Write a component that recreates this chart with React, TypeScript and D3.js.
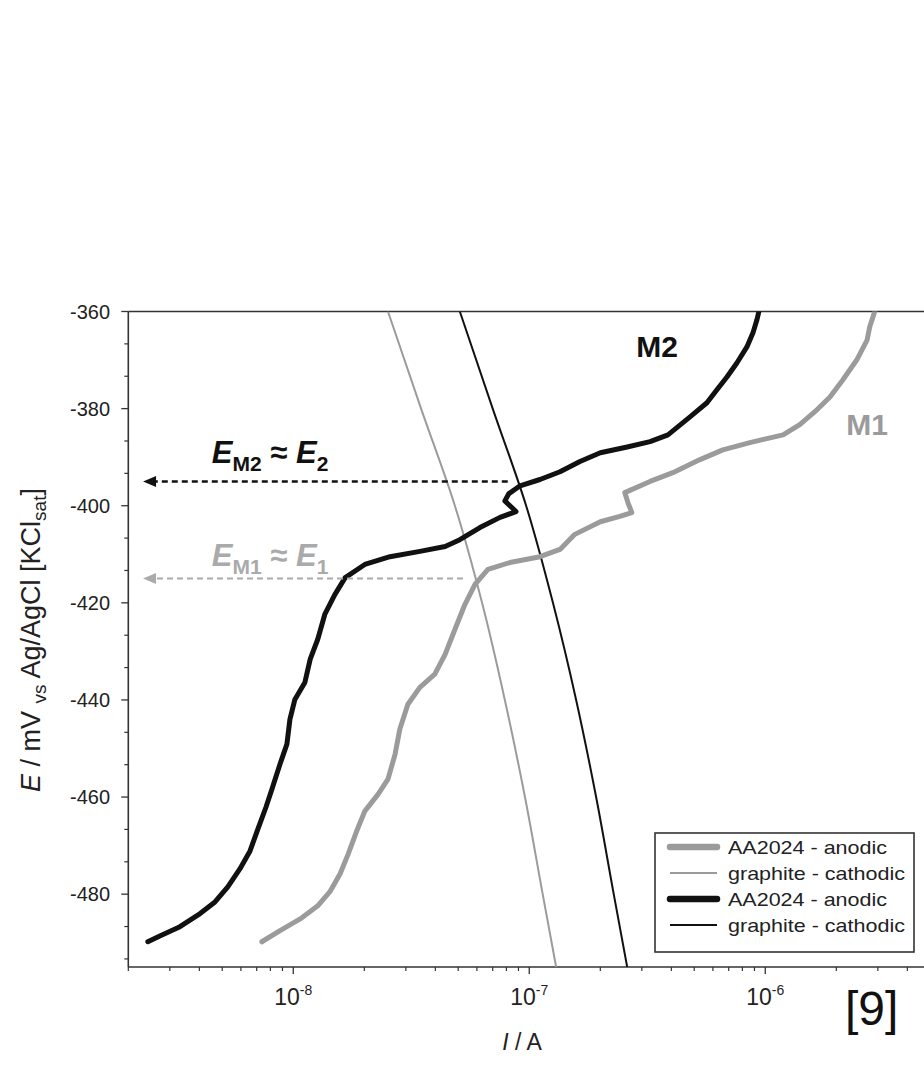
import React from 'react';
import * as d3 from 'd3';

// AA2024 anodic curve, couple M2 (black, thick)
const m2Current = [
  2.42e-9, 2.72e-9, 3.31e-9, 4.03e-9, 4.66e-9, 5.28e-9, 5.94e-9, 6.56e-9, 7.08e-9, 7.66e-9,
  8.12e-9, 8.79e-9, 9.4e-9, 9.68e-9, 1.016e-8, 1.12e-8, 1.18e-8, 1.27e-8, 1.36e-8, 1.5e-8,
  1.66e-8, 2.01e-8, 2.57e-8, 3.44e-8, 4.4e-8, 5.08e-8, 6.18e-8, 7.52e-8, 8.79e-8, 7.88e-8,
  8.2e-8, 9.14e-8, 1.11e-7, 1.35e-7, 1.64e-7, 2.0e-7, 2.6e-7, 3.25e-7, 3.87e-7, 4.8e-7,
  5.66e-7, 6.24e-7, 6.88e-7, 7.58e-7, 8.36e-7, 8.87e-7, 9.22e-7, 9.4e-7,
];
const m2Potential = [
  -489.8, -488.6, -486.7, -484.0, -481.6, -478.5, -474.8, -471.1, -466.6, -462.1,
  -458.4, -453.2, -449.1, -444.0, -439.9, -436.4, -431.6, -427.5, -422.4, -418.3,
  -414.8, -412.1, -410.5, -409.4, -408.4, -407.0, -404.5, -402.4, -401.2, -399.0,
  -397.5, -395.9, -394.6, -393.0, -390.9, -389.1, -387.9, -386.8, -385.4, -381.7,
  -378.8, -376.1, -373.5, -370.6, -367.3, -364.4, -361.7, -360.0,
];

// AA2024 anodic curve, couple M1 (grey, thick)
const m1Current = [
  7.36e-9, 8.79e-9, 1.07e-8, 1.27e-8, 1.43e-8, 1.58e-8, 1.71e-8, 1.85e-8, 2.01e-8, 2.29e-8,
  2.52e-8, 2.7e-8, 2.83e-8, 3.06e-8, 3.44e-8, 3.98e-8, 4.4e-8, 4.84e-8, 5.34e-8, 5.89e-8,
  6.68e-8, 8.28e-8, 1.11e-7, 1.35e-7, 1.56e-7, 2.0e-7, 2.42e-7, 2.72e-7, 2.62e-7, 2.54e-7,
  3.25e-7, 4.06e-7, 5.29e-7, 6.61e-7, 8.61e-7, 1.19e-6, 1.4e-6, 1.66e-6, 1.88e-6, 2.13e-6,
  2.44e-6, 2.7e-6, 2.77e-6, 2.91e-6,
];
const m1Potential = [
  -489.8, -487.5, -485.1, -482.4, -479.5, -475.8, -471.7, -467.2, -462.9, -459.4,
  -456.3, -451.2, -446.0, -440.9, -437.4, -434.7, -430.6, -425.5, -420.3, -416.2,
  -413.1, -411.7, -410.5, -409.0, -405.9, -403.3, -402.2, -401.4, -399.4, -397.3,
  -395.0, -393.2, -390.5, -388.5, -387.0, -385.4, -383.3, -380.2, -377.6, -374.1,
  -370.0, -365.9, -363.2, -360.0,
];

// graphite cathodic curves (thin)
const cathodicPotential = [-360, -380, -400, -420, -440, -460, -480, -495];
const graphite1Current = [2.52e-8, 3.48e-8, 4.84e-8, 6.31e-8, 7.88e-8, 9.59e-8, 1.14e-7, 1.3e-7];
const graphite2Current = [5.08e-8, 7.0e-8, 9.7e-8, 1.26e-7, 1.58e-7, 1.92e-7, 2.28e-7, 2.6e-7];

// mixed potentials marked with arrows
const arrowStartCurrent = [8.11e-8, 5.24e-8];
const arrowEndCurrent = [2.31e-9, 2.31e-9];
const arrowPotential = [-395, -415];

const yMajorTicks = [-360, -380, -400, -420, -440, -460, -480];
const xMajorTicks = [1e-8, 1e-7, 1e-6];
const xTickExponents = ['-8', '-7', '-6'];

const legendLabels = ['AA2024 - anodic', 'graphite - cathodic', 'AA2024 - anodic', 'graphite - cathodic'];

const GREY = '#9b9b9b';
const DARK = '#111';
const FONT = '"Liberation Sans", Arial, Helvetica, sans-serif';

export default function App() {
  const width = 924;
  const height = 1079;
  const left = 128.3;
  const top = 311.5;
  const bottom = 967;

  const x = d3.scaleLog().domain([2e-9, 1e-5]).range([left, left + 236 * Math.log10(1e-5 / 2e-9)]);
  const y = d3.scaleLinear().domain([-495, -360]).range([bottom, top]);

  const line = d3.line<[number, number]>()
    .x(d => x(d[0]))
    .y(d => y(d[1]));
  const smooth = d3.line<[number, number]>()
    .x(d => x(d[0]))
    .y(d => y(d[1]))
    .curve(d3.curveMonotoneY);

  const zip = (a: number[], b: number[]) => a.map((v, i) => [v, b[i]] as [number, number]);

  const yMinor = d3.range(-360, -495, -20 / 3).filter(v => !yMajorTicks.some(m => Math.abs(m - v) < 0.01));
  const xMinor: number[] = [];
  for (let e = -9; e <= -6; e++) {
    for (let k = 2; k <= 9; k++) {
      const v = k * Math.pow(10, e);
      if (v >= 2e-9 && x(v) <= width) xMinor.push(v);
    }
  }

  const legendX = 655;
  const legendY = 833;
  const legendStyles = [
    { color: GREY, w: 6.5 },
    { color: GREY, w: 2 },
    { color: DARK, w: 6.5 },
    { color: DARK, w: 2 },
  ];

  return (
    <svg width={width} height={height} style={{ position: 'absolute', left: 0, top: 0, background: '#fff' }}
      fontFamily={FONT}>
      <defs>
        <clipPath id="plotClip">
          <rect x={left} y={top} width={width - left} height={bottom - top} />
        </clipPath>
      </defs>
      <rect width={width} height={height} fill="#fff" />

      {/* frame */}
      <line x1={left} x2={width} y1={top} y2={top} stroke="#333" strokeWidth={1.6} />
      <line x1={left} x2={left} y1={top} y2={bottom} stroke="#333" strokeWidth={1.6} />
      <line x1={left} x2={width} y1={bottom} y2={bottom} stroke="#333" strokeWidth={1.6} />

      {/* y ticks */}
      {yMajorTicks.map(t => (
        <g key={t}>
          <line x1={left - 7} x2={left} y1={y(t)} y2={y(t)} stroke="#333" strokeWidth={1.3} />
          <text x={110} y={y(t)} textAnchor="end" dominantBaseline="central" fontSize={20} fill="#222">{t}</text>
        </g>
      ))}
      {yMinor.map(t => (
        <line key={t} x1={left - 4} x2={left} y1={y(t)} y2={y(t)} stroke="#333" strokeWidth={1.2} />
      ))}

      {/* x ticks */}
      {xMajorTicks.map((t, i) => (
        <g key={t}>
          <line x1={x(t)} x2={x(t)} y1={bottom} y2={bottom + 7} stroke="#333" strokeWidth={1.3} />
          <text x={x(t) - 19} y={1005} fontSize={23} fill="#222">
            10<tspan dy={-10} fontSize={14}>{xTickExponents[i]}</tspan>
          </text>
        </g>
      ))}
      {xMinor.map(t => (
        <line key={t} x1={x(t)} x2={x(t)} y1={bottom} y2={bottom + 4} stroke="#333" strokeWidth={1.2} />
      ))}

      {/* axis titles */}
      <text x={522} y={1050} textAnchor="middle" fontSize={23} fill="#222">
        <tspan fontStyle="italic">I</tspan> / A
      </text>
      <text transform="translate(40,640) rotate(-90)" textAnchor="middle" fontSize={27} fill="#222">
        <tspan fontStyle="italic">E</tspan> / mV <tspan dy={6} fontSize={19}>vs</tspan>
        <tspan dy={-6}> Ag/AgCl [KCl</tspan><tspan dy={6} fontSize={19}>sat</tspan><tspan dy={-6}>]</tspan>
      </text>

      <g clipPath="url(#plotClip)">
        {/* cathodic curves */}
        <path d={smooth(zip(graphite1Current, cathodicPotential)) || ''} fill="none" stroke={GREY} strokeWidth={2} />
        <path d={smooth(zip(graphite2Current, cathodicPotential)) || ''} fill="none" stroke={DARK} strokeWidth={2} />
        {/* anodic curves */}
        <path d={line(zip(m1Current, m1Potential)) || ''} fill="none" stroke={GREY} strokeWidth={5}
          strokeLinejoin="round" strokeLinecap="round" />
        <path d={line(zip(m2Current, m2Potential)) || ''} fill="none" stroke={DARK} strokeWidth={5}
          strokeLinejoin="round" strokeLinecap="round" />
      </g>

      {/* mixed potential arrows */}
      {arrowPotential.map((p, i) => {
        const col = i === 0 ? DARK : '#aaa';
        const tip = x(arrowEndCurrent[i]);
        const yy = y(p);
        return (
          <g key={p}>
            <line x1={x(arrowStartCurrent[i])} x2={tip + 10} y1={yy} y2={yy}
              stroke={col} strokeWidth={i === 0 ? 2.4 : 2} strokeDasharray="6,4" />
            <path d={`M${tip},${yy} L${tip + 13},${yy - 5.5} L${tip + 13},${yy + 5.5} Z`} fill={col} />
          </g>
        );
      })}

      {/* annotations */}
      <text x={x(4.52e-9)} y={y(-391.1)} fontSize={31} fontWeight="bold" fill={DARK}>
        <tspan fontStyle="italic">E</tspan><tspan dy={8} fontSize={21}>M2</tspan>
        <tspan dy={-8}> ≈ </tspan><tspan fontStyle="italic">E</tspan><tspan dy={8} fontSize={21}>2</tspan>
      </text>
      <text x={x(4.52e-9)} y={y(-412.5)} fontSize={31} fontWeight="bold" fill="#aaa">
        <tspan fontStyle="italic">E</tspan><tspan dy={8} fontSize={21}>M1</tspan>
        <tspan dy={-8}> ≈ </tspan><tspan fontStyle="italic">E</tspan><tspan dy={8} fontSize={21}>1</tspan>
      </text>
      <text x={x(3.48e-7)} y={y(-369.4)} textAnchor="middle" fontSize={30} fontWeight="bold" fill={DARK}>M2</text>
      <text x={x(2.7e-6)} y={y(-385.4)} textAnchor="middle" fontSize={30} fontWeight="bold" fill={GREY}>M1</text>

      {/* legend */}
      <rect x={legendX} y={legendY} width={914 - legendX} height={952 - legendY} fill="#fff" stroke="#333" strokeWidth={1.6} />
      {legendLabels.map((lab, i) => (
        <g key={i} transform={`translate(0,${847 + i * 26})`}>
          <line x1={670} x2={717} y1={0} y2={0} stroke={legendStyles[i].color} strokeWidth={legendStyles[i].w}
            strokeLinecap={legendStyles[i].w > 3 ? 'round' : 'butt'} />
          <text x={728} y={0} dominantBaseline="central" fontSize={18.5} fill="#222"
            textLength={lab.startsWith('AA') ? 159 : 177} lengthAdjust="spacingAndGlyphs">{lab}</text>
        </g>
      ))}

      <text x={845} y={1025} fontSize={48} fill="#111">[9]</text>
    </svg>
  );
}
